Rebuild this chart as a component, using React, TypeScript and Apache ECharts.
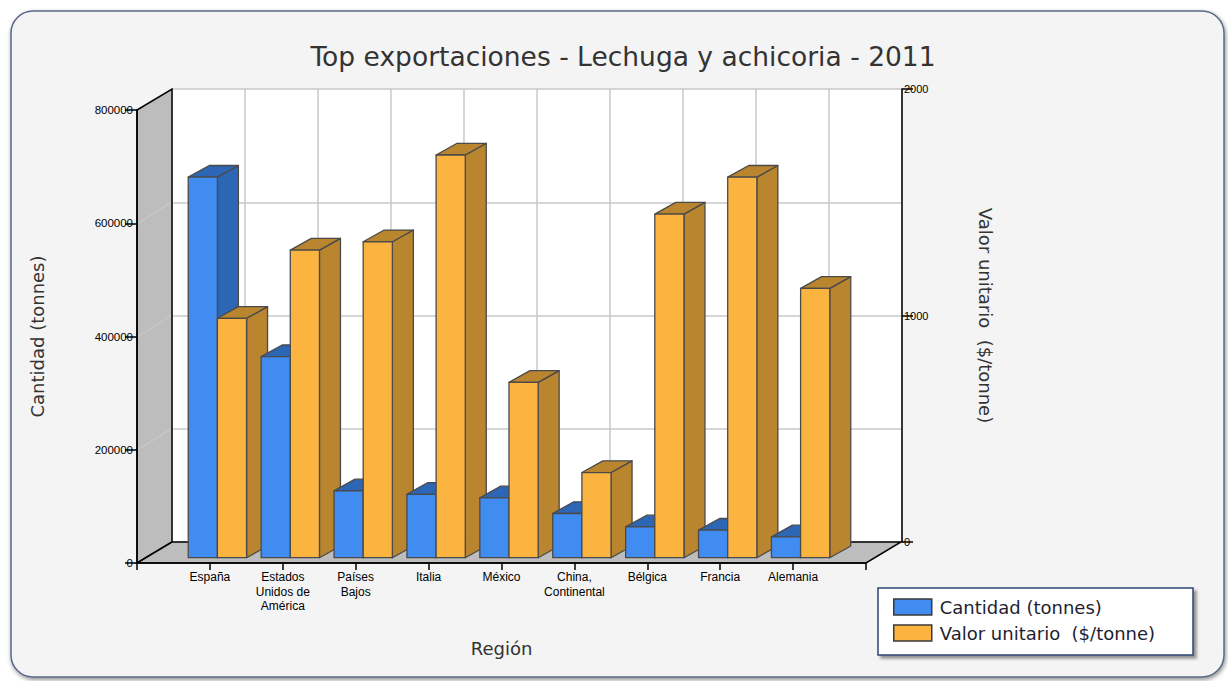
import React, { useEffect, useRef } from 'react';
import * as echarts from 'echarts';

const TITLE = 'Top exportaciones - Lechuga y achicoria - 2011';
const categories = [
  'España',
  'Estados\nUnidos de\nAmérica',
  'Países\nBajos',
  'Italia',
  'México',
  'China,\nContinental',
  'Bélgica',
  'Francia',
  'Alemania',
];
const cantidad = [672000, 355000, 118000, 112000, 105700, 78100, 54400, 48600, 36800];
const valorUnitario = [1057, 1358, 1395, 1778, 774, 376, 1517, 1680, 1189];
const seriesNames = ['Cantidad (tonnes)', 'Valor unitario  ($/tonne)'];
const leftTicks = { max: 800000, interval: 200000 };
const rightTicks = { max: 2000, interval: 1000 };
const slotMax = categories.length + 1;

const FONT = '"DejaVu Sans", Verdana, sans-serif';
const TICK_FONT = '"Liberation Sans", Arial, sans-serif';

const BLUE = '#418cf0';
const BLUE_DARK = '#2e66b6';
const ORANGE = '#fcb441';
const ORANGE_DARK = '#b9852f';
const EDGE = '#4a4a4a';

// wall depth and bar placement (pixels)
const WALL_D = [35, -21];
const BAR_OFF = [7.5, -5.3];
const BAR_D = [21, -11.7];

function wallsRender(params: any, api: any) {
  const a = api.coord([0, 0]);
  const b = api.coord([slotMax, 0]);
  const c = api.coord([0, leftTicks.max]);
  const add = (p: number[]) => [p[0] + WALL_D[0], p[1] + WALL_D[1]];
  const children: any[] = [
    {
      type: 'polygon',
      shape: { points: [a, c, add(c), add(a)] },
      style: { fill: '#bdbdbd', stroke: '#000', lineWidth: 1.5 },
    },
    {
      type: 'polygon',
      shape: { points: [a, b, add(b), add(a)] },
      style: { fill: '#bdbdbd', stroke: '#000', lineWidth: 1.5 },
    },
  ];
  for (let v = leftTicks.interval; v < leftTicks.max; v += leftTicks.interval) {
    const p = api.coord([0, v]);
    children.push({
      type: 'line',
      shape: { x1: p[0] + 1, y1: p[1], x2: p[0] + WALL_D[0] - 1, y2: p[1] + WALL_D[1] },
      style: { stroke: '#cdcdcd', lineWidth: 1 },
    });
  }
  return { type: 'group', children };
}

function barRender(side: number, front: string, dark: string) {
  return (params: any, api: any) => {
    const x = api.value(0);
    const v = api.value(1);
    const base = api.coord([x, 0]);
    const top = api.coord([x, v]);
    const w = api.size([1, 0])[0] * 0.4;
    const left = base[0] + BAR_OFF[0] - (side === 0 ? w : 0);
    const right = left + w;
    const by = base[1] + BAR_OFF[1];
    const ty = top[1] + BAR_OFF[1];
    const z2 = params.dataIndex * 10 + side * 5;
    const st = { stroke: EDGE, lineWidth: 1.3, lineJoin: 'round' };
    return {
      type: 'group',
      children: [
        {
          type: 'polygon',
          z2: z2 + 1,
          shape: {
            points: [
              [right, ty],
              [right + BAR_D[0], ty + BAR_D[1]],
              [right + BAR_D[0], by + BAR_D[1]],
              [right, by],
            ],
          },
          style: { ...st, fill: dark },
        },
        {
          type: 'polygon',
          z2: z2 + 2,
          shape: {
            points: [
              [left, ty],
              [right, ty],
              [right + BAR_D[0], ty + BAR_D[1]],
              [left + BAR_D[0], ty + BAR_D[1]],
            ],
          },
          style: { ...st, fill: dark },
        },
        {
          type: 'rect',
          z2: z2 + 3,
          shape: { x: left, y: ty, width: w, height: by - ty },
          style: { ...st, fill: front },
        },
      ],
    };
  };
}

export default function App() {
  const ref = useRef<HTMLDivElement>(null);
  useEffect(() => {
    if (!ref.current) return;
    const chart = echarts.init(ref.current, undefined, { renderer: 'svg' });
    const axisLineStyle = { color: '#000', width: 1.5 };
    const plain = (v: number) => String(v);
    const option: any = {
      animation: false,
      backgroundColor: '#ffffff',
      graphic: [
        {
          type: 'rect',
          z: -10,
          shape: { x: 11, y: 11, width: 1213, height: 666, r: 22 },
          style: {
            fill: '#f4f4f4',
            stroke: '#5a6985',
            lineWidth: 1.5,
            shadowBlur: 4,
            shadowOffsetX: 1,
            shadowOffsetY: 2,
            shadowColor: 'rgba(0,0,0,0.45)',
          },
        },
        {
          type: 'text',
          z: 5,
          x: 623,
          y: 56,
          style: {
            text: TITLE,
            fill: '#333',
            font: '26.5px ' + FONT,
            textAlign: 'center',
            textVerticalAlign: 'middle',
            shadowBlur: 2,
            shadowColor: 'rgba(0,0,0,0.35)',
            shadowOffsetX: 1,
            shadowOffsetY: 1,
          },
        },
        {
          type: 'rect',
          z: 3,
          shape: { x: 878, y: 588, width: 315, height: 67 },
          style: {
            fill: '#ffffff',
            stroke: '#2f4474',
            lineWidth: 1.5,
            shadowBlur: 3,
            shadowOffsetX: 3,
            shadowOffsetY: 3,
            shadowColor: 'rgba(0,0,0,0.4)',
          },
        },
      ],
      legend: {
        z: 6,
        left: 893,
        top: 598,
        orient: 'vertical',
        itemWidth: 38,
        itemHeight: 16,
        itemGap: 8,
        padding: 0,
        textStyle: { fontFamily: FONT, fontSize: 18, color: '#1e1e30', lineHeight: 16, padding: [0, 0, 0, 3] },
        data: [
          { name: seriesNames[0], icon: 'rect', itemStyle: { color: BLUE, borderColor: '#3a3a3a', borderWidth: 1.5 } },
          { name: seriesNames[1], icon: 'rect', itemStyle: { color: ORANGE, borderColor: '#3a3a3a', borderWidth: 1.5 } },
        ],
      },
      grid: [
        { left: 137, top: 110, width: 729, height: 453 },
        { left: 172, top: 89, width: 730, height: 453, show: true, backgroundColor: '#ffffff', borderWidth: 0 },
      ],
      xAxis: [
        {
          gridIndex: 0,
          type: 'value',
          min: 0,
          max: slotMax,
          interval: 1,
          z: 5,
          axisLine: { onZero: false, lineStyle: axisLineStyle },
          axisTick: { length: 7, lineStyle: axisLineStyle },
          splitLine: { show: false },
          axisLabel: {
            formatter: (v: number) => categories[Math.round(v) - 1] ?? '',
            fontFamily: TICK_FONT,
            fontSize: 12,
            lineHeight: 14.5,
            margin: 7,
            color: '#000',
          },
          name: 'Región',
          nameLocation: 'middle',
          nameGap: 76,
          nameTextStyle: { fontFamily: FONT, fontSize: 18, color: '#333' },
        },
        {
          gridIndex: 1,
          type: 'value',
          min: 0,
          max: slotMax,
          interval: 1,
          axisLine: { show: false },
          axisTick: { show: false },
          axisLabel: { show: false },
          splitLine: { show: true, lineStyle: { color: '#c9c9c9', width: 1.5 } },
        },
      ],
      yAxis: [
        {
          gridIndex: 0,
          type: 'value',
          min: 0,
          max: leftTicks.max,
          interval: leftTicks.interval,
          position: 'left',
          z: 5,
          axisLine: { show: true, onZero: false, lineStyle: axisLineStyle },
          axisTick: { show: true, length: 12, lineStyle: axisLineStyle },
          splitLine: { show: false },
          axisLabel: { formatter: plain, fontFamily: TICK_FONT, fontSize: 11.5, margin: 4, color: '#000' },
          name: seriesNames[0],
          nameLocation: 'middle',
          nameGap: 91,
          nameRotate: 90,
          nameTextStyle: { fontFamily: FONT, fontSize: 18, color: '#333' },
        },
        { gridIndex: 0, type: 'value', min: 0, max: rightTicks.max, show: false },
        {
          gridIndex: 1,
          type: 'value',
          min: 0,
          max: rightTicks.max,
          interval: rightTicks.interval,
          position: 'right',
          z: 5,
          axisLine: { show: true, onZero: false, lineStyle: axisLineStyle },
          axisTick: { show: true, length: 11, lineStyle: axisLineStyle },
          splitLine: { show: false },
          axisLabel: { formatter: plain, fontFamily: TICK_FONT, fontSize: 11, margin: 2, color: '#000' },
          name: seriesNames[1],
          nameLocation: 'middle',
          nameGap: 74,
          nameRotate: -90,
          nameTextStyle: { fontFamily: FONT, fontSize: 18, color: '#333' },
        },
        {
          gridIndex: 1,
          type: 'value',
          min: 0,
          max: leftTicks.max,
          interval: leftTicks.interval,
          position: 'left',
          axisLine: { show: false },
          axisTick: { show: false },
          axisLabel: { show: false },
          splitLine: { show: true, lineStyle: { color: '#c9c9c9', width: 1.5 } },
        },
      ],
      series: [
        {
          type: 'custom',
          name: 'walls',
          silent: true,
          z: 1,
          xAxisIndex: 0,
          yAxisIndex: 0,
          data: [[0, 0]],
          renderItem: wallsRender,
        },
        {
          type: 'custom',
          name: seriesNames[0],
          z: 2,
          xAxisIndex: 0,
          yAxisIndex: 0,
          itemStyle: { color: BLUE },
          data: cantidad.map((v, i) => [i + 1, v]),
          renderItem: barRender(0, BLUE, BLUE_DARK),
        },
        {
          type: 'custom',
          name: seriesNames[1],
          z: 2,
          xAxisIndex: 0,
          yAxisIndex: 1,
          itemStyle: { color: ORANGE },
          data: valorUnitario.map((v, i) => [i + 1, v]),
          renderItem: barRender(1, ORANGE, ORANGE_DARK),
        },
      ],
    };
    chart.setOption(option);
    return () => chart.dispose();
  }, []);
  return (
    <div
      ref={ref}
      style={{ position: 'absolute', left: 0, top: 0, width: 1228, height: 681 }}
    />
  );
}
